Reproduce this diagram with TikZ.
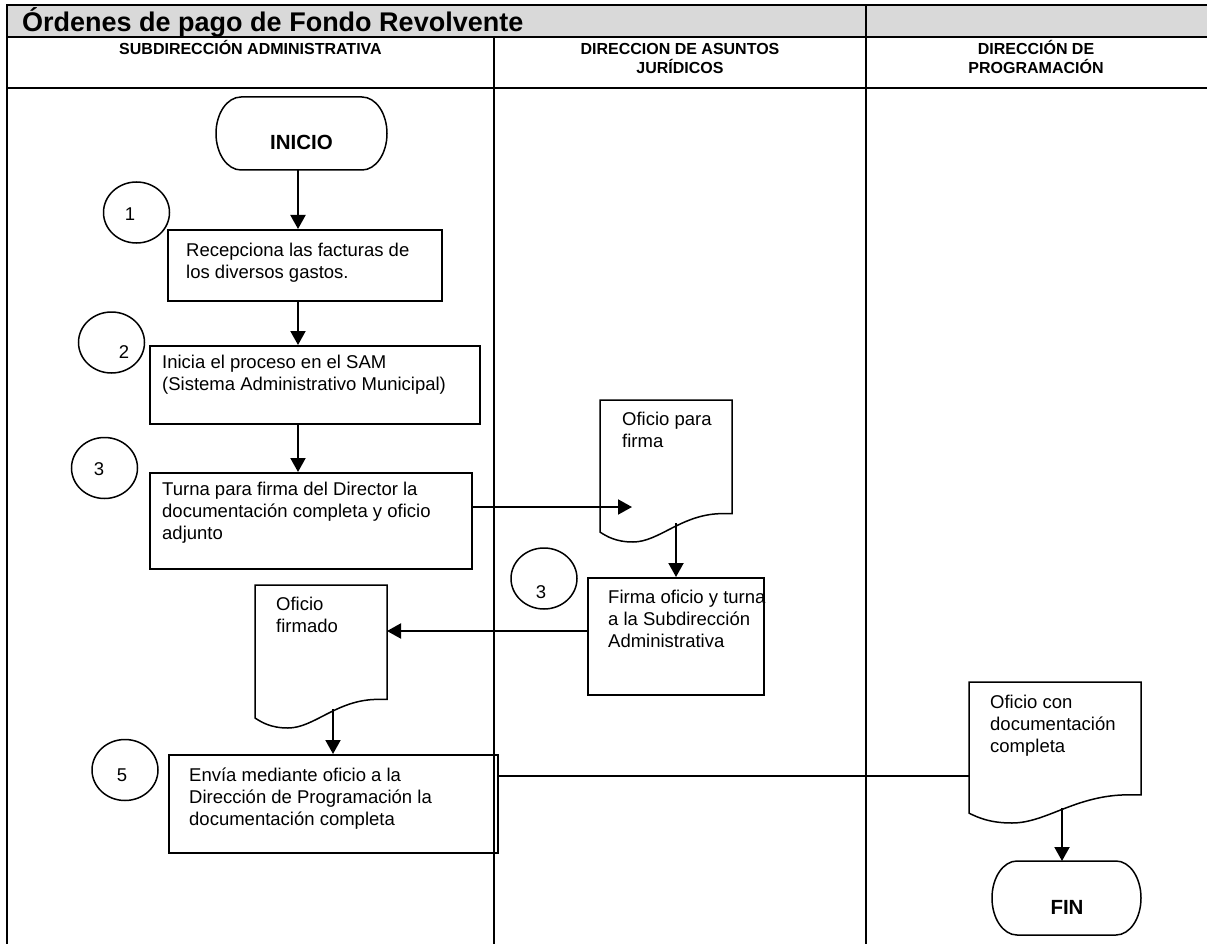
\documentclass[tikz,border=0pt]{standalone}
\usepackage{fontspec}
\setmainfont{Liberation Sans}
\usetikzlibrary{arrows.meta,shapes.geometric}
\definecolor{titlegray}{RGB}{217,217,217}

% document symbol: straight top and sides, wavy bottom  (x, y, width, height)
\newcommand\docoutline[4]{%
  \draw[shape line] (#1,#2) -- ({#1+#3},#2) -- ({#1+#3},{#2+0.80*#4})
    -- ({#1+0.93*#3},{#2+0.80*#4})
    .. controls ({#1+0.62*#3},{#2+0.80*#4}) and ({#1+0.45*#3},{#2+#4}) .. ({#1+0.25*#3},{#2+#4})
    .. controls ({#1+0.12*#3},{#2+#4}) and ({#1+0.05*#3},{#2+0.96*#4}) .. (#1,{#2+0.93*#4})
    -- cycle;}
% terminator: flat top and bottom, elliptic ends  (x, y, width, height)
\newcommand\termoutline[4]{%
  \draw[shape line] ({#1+25},#2) -- ({#1+#3-25},#2)
    arc[start angle=-90, end angle=90, x radius=25, y radius={#4/2}]
    -- ({#1+25},{#2+#4})
    arc[start angle=90, end angle=270, x radius=25, y radius={#4/2}] -- cycle;}

\begin{document}
\begin{tikzpicture}[x=1pt,y=-1pt,
  lane/.style={line width=2.2pt},
  shape line/.style={line width=1.5pt},
  box/.style={draw, shape line, rectangle, inner sep=0pt, anchor=north west},
  frame/.style={rectangle, inner sep=0pt, anchor=north west},
  txt/.style={font=\fontsize{18.5}{21.7}\selectfont, align=left, anchor=north west,
    inner sep=0pt, execute at begin node={\rule{0pt}{17pt}}},
  num/.style={font=\fontsize{18.5}{21.5}\selectfont, inner sep=0pt},
  oval/.style={draw, shape line, ellipse, minimum width=66pt, minimum height=61pt, inner sep=0pt},
  termtext/.style={font=\fontsize{20.5}{24}\selectfont\bfseries, inner sep=0pt},
  lanehead/.style={font=\fontsize{16}{18.5}\selectfont\bfseries, anchor=base, inner sep=0pt},
  flow/.style={line width=2pt, -{Triangle[width=15pt,length=14pt]}},
]
\useasboundingbox (0,0) rectangle (1207,944);

% ---- swimlane table ----
\fill[titlegray] (7,5) rectangle (1209,37);
\draw[lane] (1209,5) -- (7,5) -- (7,946);
\draw[lane] (7,37) -- (1209,37);
\draw[lane] (7,88) -- (1209,88);
\draw[lane] (494,37) -- (494,946);
\draw[lane] (866,5) -- (866,946);

\node[anchor=base west, inner sep=0pt, font=\fontsize{27}{31}\selectfont\bfseries]
  (title) at (22,32) {Órdenes de pago de Fondo Revolvente};
\node[lanehead] (h1)  at (250.5,55) {SUBDIRECCIÓN ADMINISTRATIVA};
\node[lanehead] (h2a) at (680,55)   {DIRECCION DE ASUNTOS};
\node[lanehead] (h2b) at (680,74)   {JURÍDICOS};
\node[lanehead] (h3a) at (1036,55)  {DIRECCIÓN DE};
\node[lanehead] (h3b) at (1036,74)  {PROGRAMACIÓN};

% ---- terminators ----
\node[frame, minimum width=171pt, minimum height=73pt] (inicio) at (216,97) {};
\termoutline{216}{97}{171}{73}
\node[termtext] (inicioT) at (301.5,142) {INICIO};

\node[frame, minimum width=149pt, minimum height=74pt] (fin) at (992,861) {};
\termoutline{992}{861}{149}{74}
\node[termtext] (finT) at (1067,907) {FIN};

% ---- process boxes ----
\node[box, minimum width=274pt, minimum height=71pt] (b1) at (167,229) {};
\node[txt] (t1) at (186,243) {Recepciona las facturas de\\los diversos gastos.};

\node[box, minimum width=330pt, minimum height=78pt] (b2) at (149,345) {};
\node[txt] (t2) at (162,355) {Inicia el proceso en el SAM\\(Sistema Administrativo Municipal)};

\node[box, minimum width=322pt, minimum height=96pt] (b3) at (149,472) {};
\node[txt] (t3) at (162,482) {Turna para firma del Director la\\documentación completa y oficio\\adjunto};

\node[box, minimum width=176pt, minimum height=117pt] (fi) at (587,577) {};
\node[txt] (tfi) at (608,590) {Firma oficio y turna\\a la Subdirección\\Administrativa};

\node[box, minimum width=329pt, minimum height=98pt] (b5) at (168,754) {};
\node[txt] (t5) at (189,768) {Envía mediante oficio a la\\Dirección de Programación la\\documentación completa};

% ---- documents ----
\node[frame, minimum width=132pt, minimum height=142pt] (d1) at (600,400) {};
\docoutline{600}{400}{132}{142}
\node[txt] (td1) at (622,412) {Oficio para\\firma};

\node[frame, minimum width=132pt, minimum height=143pt] (d2) at (255,585) {};
\docoutline{255}{585}{132}{143}
\node[txt] (td2) at (276,597) {Oficio\\firmado};

\node[frame, minimum width=172pt, minimum height=141pt] (d3) at (969,682) {};
\docoutline{969}{682}{172}{141}
\node[txt] (td3) at (990,695) {Oficio con\\documentación\\completa};

% ---- step numbers ----
\node[oval] (c1) at (136.5,212.5) {};
\node[num]  (n1) at (130,214) {1};
\node[oval] (c2) at (111.5,342.5) {};
\node[num]  (n2) at (124,352) {2};
\node[oval] (c3) at (104.5,468) {};
\node[num]  (n3) at (99,469) {3};
\node[oval] (c4) at (544,578.5) {};
\node[num]  (n4) at (541,592) {3};
\node[oval] (c5) at (125,770) {};
\node[num]  (n5) at (122,775) {5};

% ---- connector end points ----
\coordinate (spine) at (298,0);
\coordinate (d1in)  at (632,507);
\coordinate (d1out) at (676,523);
\coordinate (d2in)  at (387,631);
\coordinate (d2out) at (333,709);
\coordinate (d3in)  at (969,776);
\coordinate (d3out) at (1062,808);

% ---- connectors ----
\draw[flow] (spine |- inicio.south) -- (spine |- b1.north);
\draw[flow] (spine |- b1.south) -- (spine |- b2.north);
\draw[flow] (spine |- b2.south) -- (spine |- b3.north);
\draw[flow] (b3.east |- d1in) -- (d1in);
\draw[flow] (d1out) -- (d1out |- fi.north);
\draw[flow] (fi.west |- d2in) -- (d2in);
\draw[flow] (d2out) -- (d2out |- b5.north);
\draw[line width=2pt] (b5.east |- d3in) -- (d3in);
\draw[flow] (d3out) -- (d3out |- fin.north);
\end{tikzpicture}
\end{document}
